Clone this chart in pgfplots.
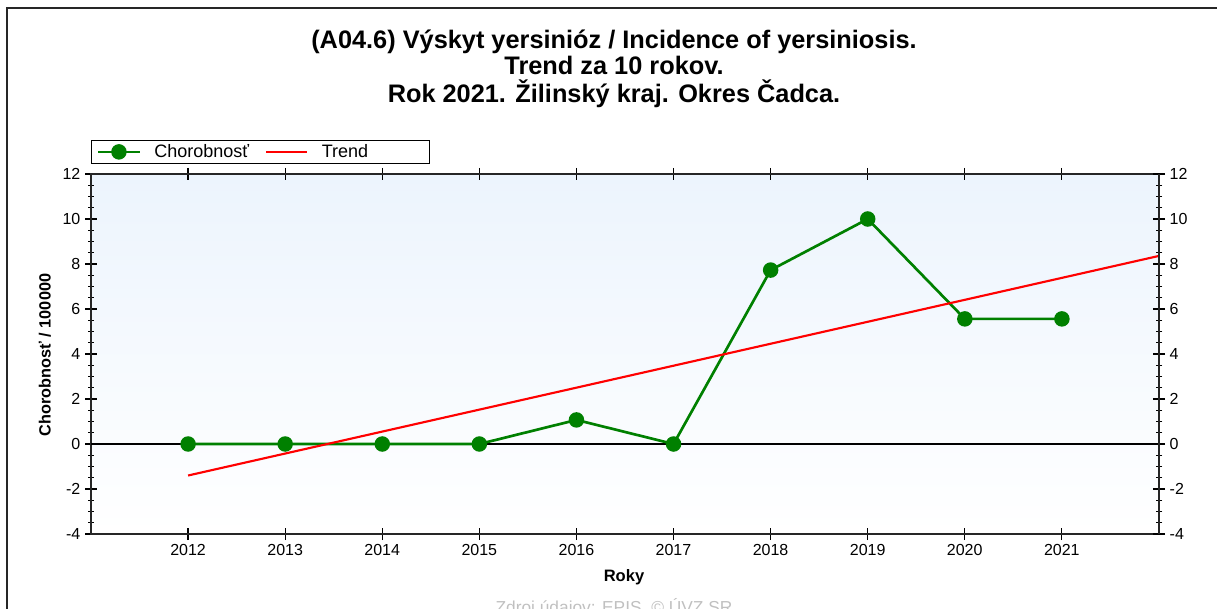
\documentclass[border=0pt]{standalone}
\usepackage{fontspec}
\setmainfont{Liberation Sans}
\usepackage{pgfplots}
\pgfplotsset{compat=1.18}
\definecolor{cgreen}{RGB}{0,128,0}
\definecolor{cred}{RGB}{255,0,0}
\definecolor{bgtop}{RGB}{236,244,253}
\definecolor{footgray}{RGB}{192,192,192}
\begin{document}
\begin{tikzpicture}[x=0.75pt,y=0.75pt]
\useasboundingbox (0,0) rectangle (1217,608);
\draw[line width=1.4pt, black!85] (7,-20) -- (7,600) -- (1240,600);
\node[anchor=base, font=\bfseries\fontsize{19}{22}\selectfont] at (614,559) {(A04.6) Výskyt yersinióz / Incidence of yersiniosis.};
\node[anchor=base, font=\bfseries\fontsize{19}{22}\selectfont] at (614,533) {Trend za 10 rokov.};
\node[anchor=base, font=\bfseries\fontsize{19}{22}\selectfont] at (614,505) {Rok 2021. Žilinský kraj. Okres Čadca.};
\node[rotate=90, font=\bfseries\fontsize{12.2}{14}\selectfont] at (45,253) {Chorobnosť / 100000};
\node[font=\bfseries\fontsize{12.4}{14}\selectfont] at (624,31) {Roky};
\node[anchor=north, font=\fontsize{13}{15}\selectfont, text=footgray] at (614,14) {Zdroj údajov: EPIS, © ÚVZ SR};
\begin{axis}[
  at={(68.25pt,55.5pt)}, anchor=south west, scale only axis,
  width=801pt, height=270pt,
  xmin=2011, xmax=2022, ymin=-4, ymax=12,
  xtick={2012,...,2021}, ytick={-4,-2,...,12}, minor y tick num=3,
  xtick align=center, ytick align=center,
  major tick length=9pt, minor tick length=4.5pt,
  axis line style={line width=1.1pt, black!85},
  tick style={line width=0.9pt, black},
  yticklabel pos=left,
  tick label style={font=\fontsize{12}{14}\selectfont},
  /pgf/number format/assume math mode=true,
  /pgf/number format/1000 sep={},
  axis background/.style={shade, top color=bgtop, bottom color=white},
  clip=false,
  legend columns=2,
  legend style={at={(rel axis cs:0,1)}, anchor=south west, yshift=7.5pt,
    draw=black, line width=0.9pt, inner xsep=4pt, inner ysep=1pt,
    font=\fontsize{13.5}{15}\selectfont,
    /tikz/every odd column/.append style={column sep=8pt},
    /tikz/every even column/.append style={column sep=10pt}},
  legend image code/.code={\draw[mark repeat=2,mark phase=2,#1] plot coordinates {(0pt,0pt) (15.5pt,0pt) (31pt,0pt)};},
]
\addplot[black, line width=0.8pt, forget plot] coordinates {(2011,0) (2022,0)};
\addplot[cgreen, line width=2pt, mark=*, mark size=4.8pt] coordinates {
(2012,0) (2013,0) (2014,0) (2015,0) (2016,1.07) (2017,0) (2018,7.73) (2019,10.0) (2020,5.56) (2021,5.56)};
\addlegendentry{Chorobnosť}
\addplot[cred, line width=1.6pt] coordinates {(2012,-1.40) (2022,8.36)};
\addlegendentry{Trend\hspace*{40pt}}
\end{axis}
\begin{axis}[
  at={(68.25pt,55.5pt)}, anchor=south west, scale only axis,
  width=801pt, height=270pt,
  xmin=2011, xmax=2022, ymin=-4, ymax=12,
  hide x axis, axis y line*=right,
  ytick={-4,-2,...,12}, minor y tick num=3,
  ytick align=center,
  major tick length=9pt, minor tick length=4.5pt,
  axis line style={line width=1.1pt, black!85, -},
  tick style={line width=0.9pt, black},
  tick label style={font=\fontsize{12}{14}\selectfont},
  /pgf/number format/assume math mode=true,
]
\addplot[draw=none, forget plot] coordinates {(2012,0)};
\end{axis}
\end{tikzpicture}
\end{document}
